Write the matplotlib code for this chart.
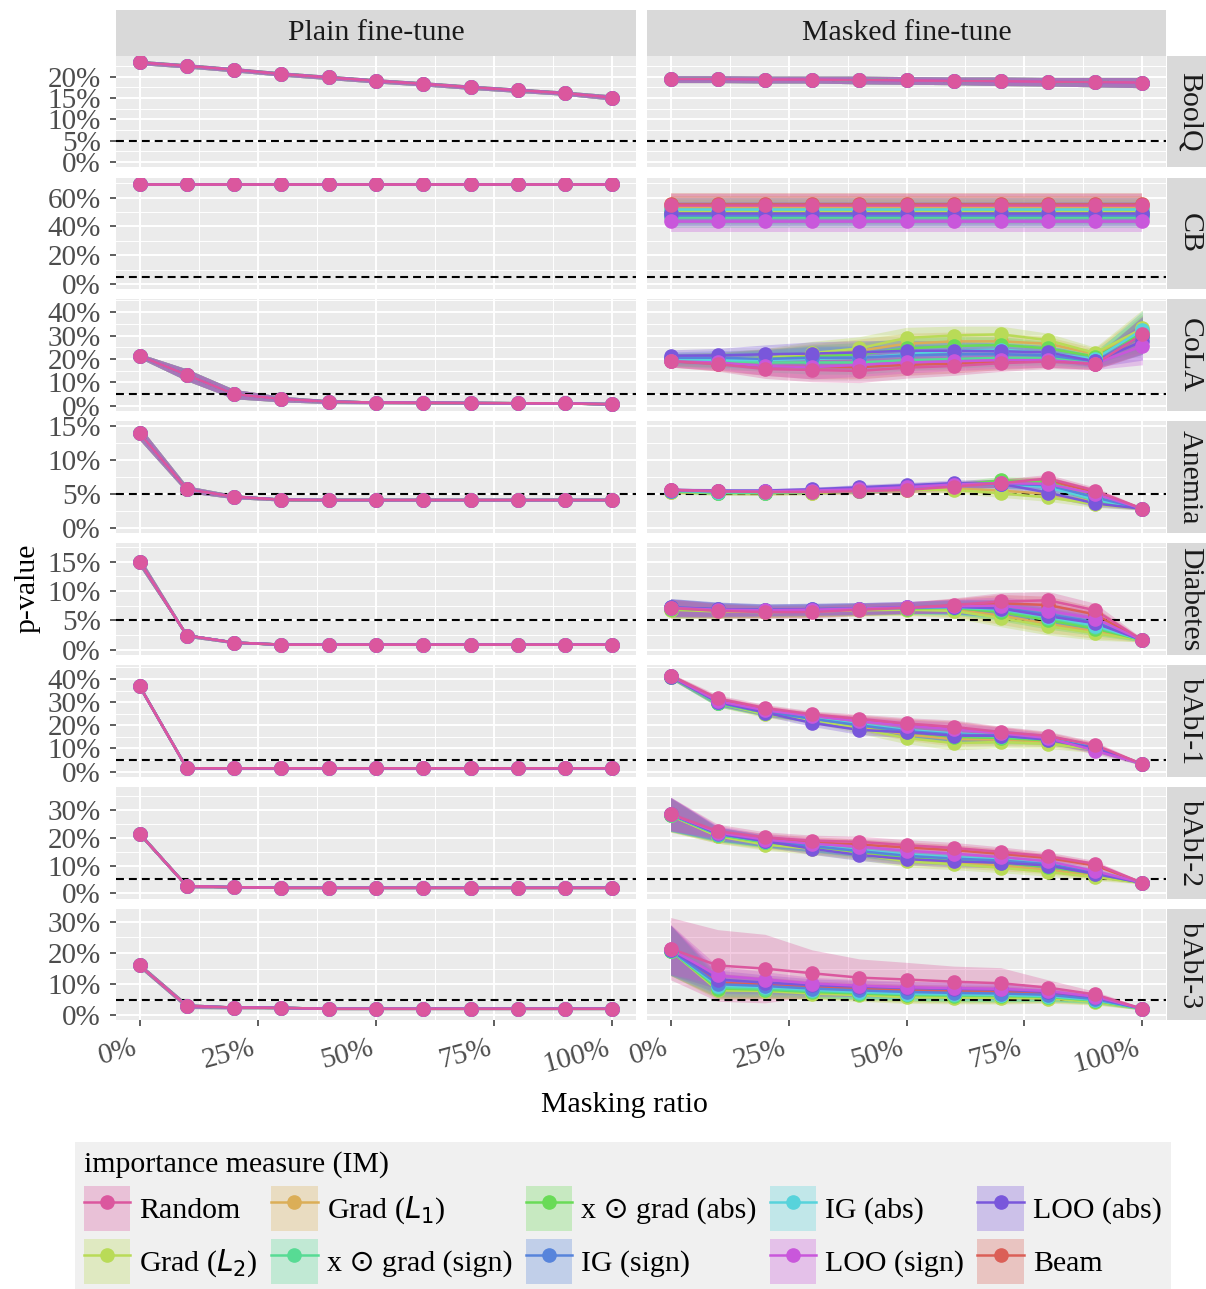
import matplotlib
matplotlib.use("Agg")
import matplotlib.pyplot as plt
import seaborn as sns
from matplotlib.lines import Line2D
from matplotlib.patches import Patch
from matplotlib.legend_handler import HandlerTuple
from matplotlib.ticker import FuncFormatter

plt.rcParams['font.family'] = ['Liberation Serif', 'DejaVu Sans']
plt.rcParams['mathtext.fontset'] = 'dejavusans'

ratio = [0.0, 0.1, 0.2, 0.3, 0.4, 0.5, 0.6, 0.7, 0.8, 0.9, 1.0]
datasets = ["BoolQ", "CB", "CoLA", "Anemia", "Diabetes", "bAbI-1", "bAbI-2", "bAbI-3"]
columns = ["Plain fine-tune", "Masked fine-tune"]

# draw order (Random last so it ends on top)
measures = ["Beam", "GradL1", "GradL2", "XGabs", "XGsign", "IGabs", "IGsign", "LOOabs", "LOOsign", "Random"]
labels = {
    "Random": "Random", "GradL1": "Grad ($L_1$)", "GradL2": "Grad ($L_2$)",
    "XGabs": "x \u2299 grad (abs)", "XGsign": "x \u2299 grad (sign)",
    "IGabs": "IG (abs)", "IGsign": "IG (sign)", "LOOabs": "LOO (abs)",
    "LOOsign": "LOO (sign)", "Beam": "Beam",
}
legend_order = ["Random", "GradL2", "GradL1", "XGsign", "XGabs", "IGsign", "IGabs", "LOOsign", "LOOabs", "Beam"]

y_ticks = [[0, 5, 10, 15, 20], [0, 20, 40, 60], [0, 10, 20, 30, 40], [0, 5, 10, 15],
           [0, 5, 10, 15], [0, 10, 20, 30, 40], [0, 10, 20, 30], [0, 10, 20, 30]]
y_top = [23.7, 70.3, 43.2, 15.0, 17.25, 43.8, 36.3, 32.5]

# ---- plain fine-tune (all measures overlap) ----
plain_boolq = [23.3, 22.5, 21.6, 20.6, 19.8, 19.0, 18.3, 17.5, 16.8, 16.1, 15.1]
plain_cb = [69.7, 69.7, 69.7, 69.7, 69.7, 69.7, 69.7, 69.7, 69.7, 69.7, 69.7]
plain_cola = [21.3, 13.2, 5.0, 2.9, 1.8, 1.4, 1.3, 1.2, 1.1, 1.0, 0.7]
plain_anemia = [14.0, 5.7, 4.6, 4.15, 4.1, 4.1, 4.1, 4.1, 4.1, 4.1, 4.1]
plain_diabetes = [15.0, 2.4, 1.2, 0.85, 0.85, 0.85, 0.85, 0.85, 0.85, 0.85, 0.85]
plain_babi1 = [36.9, 1.4, 1.4, 1.4, 1.4, 1.4, 1.4, 1.4, 1.4, 1.4, 1.4]
plain_babi2 = [21.4, 2.6, 2.25, 2.0, 2.0, 2.0, 2.0, 2.0, 2.0, 2.0, 2.0]
plain_babi3 = [16.0, 3.0, 2.5, 2.4, 2.1, 2.1, 2.1, 2.1, 2.1, 2.1, 2.1]

plain_ci_boolq = [0.5, 0.5, 0.5, 0.5, 0.5, 0.5, 0.5, 0.5, 0.5, 0.5, 0.6]
plain_ci_cb = [0.5, 0.5, 0.5, 0.5, 0.5, 0.5, 0.5, 0.5, 0.5, 0.5, 0.5]
plain_ci_cola = [1.0, 2.5, 2.0, 1.2, 0.8, 0.5, 0.5, 0.4, 0.4, 0.3, 0.3]
plain_ci_anemia = [1.0, 0.5, 0.3, 0.2, 0.2, 0.2, 0.2, 0.2, 0.2, 0.2, 0.2]
plain_ci_diabetes = [0.8, 0.3, 0.2, 0.1, 0.1, 0.1, 0.1, 0.1, 0.1, 0.1, 0.1]
plain_ci_babi1 = [0.8, 0.3, 0.2, 0.2, 0.2, 0.2, 0.2, 0.2, 0.2, 0.2, 0.2]
plain_ci_babi2 = [0.8, 0.6, 0.3, 0.2, 0.2, 0.2, 0.2, 0.2, 0.2, 0.2, 0.2]
plain_ci_babi3 = [0.8, 0.8, 0.4, 0.3, 0.2, 0.2, 0.2, 0.2, 0.2, 0.2, 0.2]

# ---- masked fine-tune ----
masked_boolq = [19.4, 19.4, 19.3, 19.3, 19.2, 19.1, 19.0, 18.9, 18.8, 18.7, 18.6]
masked_ci_boolq = [0.8, 0.8, 0.8, 0.8, 0.9, 0.9, 0.9, 1.0, 1.0, 1.1, 1.2]

masked_cb = {
    "Beam":    [55.5, 55.5, 55.5, 55.5, 55.5, 55.5, 55.5, 55.5, 55.5, 55.5, 55.5],
    "GradL1":  [53.5, 53.5, 53.5, 53.5, 53.5, 53.5, 53.5, 53.5, 53.5, 53.5, 53.5],
    "GradL2":  [50.8, 50.8, 50.8, 50.8, 50.8, 50.8, 50.8, 50.8, 50.8, 50.8, 50.8],
    "XGabs":   [49.0, 49.0, 49.0, 49.0, 49.0, 49.0, 49.0, 49.0, 49.0, 49.0, 49.0],
    "XGsign":  [46.5, 46.5, 46.5, 46.5, 46.5, 46.5, 46.5, 46.5, 46.5, 46.5, 46.5],
    "IGabs":   [52.0, 52.0, 52.0, 52.0, 52.0, 52.0, 52.0, 52.0, 52.0, 52.0, 52.0],
    "IGsign":  [48.0, 48.0, 48.0, 48.0, 48.0, 48.0, 48.0, 48.0, 48.0, 48.0, 48.0],
    "LOOabs":  [49.5, 49.5, 49.5, 49.5, 49.5, 49.5, 49.5, 49.5, 49.5, 49.5, 49.5],
    "LOOsign": [43.4, 43.4, 43.4, 43.4, 43.4, 43.4, 43.4, 43.4, 43.4, 43.4, 43.4],
    "Random":  [54.8, 54.8, 54.8, 54.8, 54.8, 54.8, 54.8, 54.8, 54.8, 54.8, 54.8],
}
masked_ci_cb = [7.5, 7.5, 7.5, 7.5, 7.5, 7.5, 7.5, 7.5, 7.5, 7.5, 7.5]

masked_cola = {
    "Beam":    [19.0, 18.0, 17.0, 16.5, 16.5, 17.5, 18.0, 19.0, 19.5, 18.0, 30.0],
    "GradL1":  [19.8, 19.8, 20.3, 21.5, 23.5, 26.5, 27.5, 27.5, 26.5, 22.0, 32.0],
    "GradL2":  [19.8, 19.8, 20.5, 22.5, 24.5, 29.0, 30.0, 30.5, 28.0, 22.5, 33.0],
    "XGabs":   [19.5, 19.5, 20.0, 21.0, 22.0, 24.5, 25.5, 26.0, 24.5, 21.0, 31.0],
    "XGsign":  [19.5, 19.0, 18.5, 18.5, 18.5, 19.5, 20.0, 20.5, 20.5, 18.5, 30.0],
    "IGabs":   [20.0, 19.5, 19.5, 20.0, 20.5, 22.0, 23.5, 24.0, 22.5, 20.0, 32.5],
    "IGsign":  [20.5, 20.5, 20.0, 20.5, 20.5, 21.5, 22.0, 22.0, 21.5, 19.0, 30.0],
    "LOOabs":  [21.4, 21.5, 22.0, 22.3, 22.8, 23.5, 23.5, 23.3, 22.8, 19.0, 27.5],
    "LOOsign": [19.0, 18.5, 17.0, 16.5, 17.5, 18.5, 19.0, 19.5, 19.5, 18.0, 25.5],
    "Random":  [19.1, 17.8, 15.7, 15.3, 14.9, 16.3, 17.0, 18.2, 18.9, 17.9, 30.5],
}
masked_ci_cola = [2.5, 3.0, 4.0, 5.0, 5.0, 4.5, 4.0, 3.5, 3.0, 2.5, 8.0]

masked_anemia = {
    "Beam":    [5.6, 5.4, 5.3, 5.4, 5.5, 5.8, 6.2, 6.7, 7.0, 5.3, 2.8],
    "GradL1":  [5.3, 5.2, 5.1, 5.2, 5.4, 5.6, 5.8, 5.5, 5.0, 3.8, 2.8],
    "GradL2":  [5.3, 5.1, 5.1, 5.2, 5.4, 5.6, 5.6, 5.1, 4.5, 3.5, 2.8],
    "XGabs":   [5.4, 5.2, 5.2, 5.3, 5.5, 5.8, 6.3, 7.0, 6.8, 4.5, 2.8],
    "XGsign":  [5.4, 5.2, 5.2, 5.3, 5.5, 5.8, 6.2, 6.6, 6.2, 4.0, 2.8],
    "IGabs":   [5.5, 5.3, 5.3, 5.4, 5.6, 5.9, 6.3, 6.5, 6.0, 4.2, 2.8],
    "IGsign":  [5.5, 5.4, 5.4, 5.5, 5.7, 6.0, 6.3, 6.5, 6.3, 4.5, 2.8],
    "LOOabs":  [5.6, 5.5, 5.5, 5.7, 6.0, 6.3, 6.6, 6.5, 5.2, 3.6, 2.8],
    "LOOsign": [5.6, 5.4, 5.4, 5.5, 5.7, 6.0, 6.4, 6.6, 6.5, 5.0, 2.8],
    "Random":  [5.6, 5.4, 5.3, 5.3, 5.4, 5.6, 6.1, 6.6, 7.3, 5.5, 2.8],
}
masked_ci_anemia = [0.3, 0.3, 0.3, 0.3, 0.4, 0.4, 0.5, 0.6, 0.6, 0.5, 0.2]

masked_diabetes = {
    "Beam":    [7.1, 6.7, 6.5, 6.6, 6.9, 7.1, 7.5, 7.9, 7.6, 6.0, 1.6],
    "GradL1":  [6.9, 6.6, 6.5, 6.6, 6.8, 6.9, 6.8, 5.8, 4.4, 3.1, 1.6],
    "GradL2":  [6.8, 6.5, 6.4, 6.5, 6.7, 6.8, 6.6, 5.4, 4.0, 2.8, 1.6],
    "XGabs":   [7.0, 6.7, 6.6, 6.7, 6.9, 7.0, 7.1, 6.4, 5.0, 3.6, 1.6],
    "XGsign":  [7.1, 6.8, 6.7, 6.8, 6.9, 7.1, 7.2, 6.7, 5.4, 3.9, 1.6],
    "IGabs":   [7.1, 6.8, 6.7, 6.8, 7.0, 7.1, 7.2, 6.9, 5.6, 4.1, 1.6],
    "IGsign":  [7.2, 6.9, 6.8, 6.9, 7.0, 7.2, 7.3, 7.1, 6.0, 4.7, 1.6],
    "LOOabs":  [7.2, 6.9, 6.8, 6.9, 7.0, 7.2, 7.3, 7.0, 5.7, 4.5, 1.6],
    "LOOsign": [7.1, 6.8, 6.7, 6.8, 7.0, 7.2, 7.4, 7.5, 6.6, 5.3, 1.6],
    "Random":  [7.1, 6.6, 6.4, 6.4, 6.8, 7.1, 7.6, 8.2, 8.4, 6.7, 1.6],
}
masked_ci_diabetes = [1.5, 1.2, 1.0, 1.0, 1.0, 1.0, 1.2, 1.5, 1.5, 1.2, 0.3]

masked_babi1 = {
    "Beam":    [41.5, 31.0, 27.0, 24.3, 22.3, 20.3, 18.8, 16.8, 15.0, 11.0, 3.2],
    "GradL1":  [41.0, 29.8, 25.3, 22.8, 19.5, 16.0, 14.0, 13.8, 12.8, 9.8, 3.2],
    "GradL2":  [41.0, 29.5, 24.8, 22.5, 18.5, 14.5, 12.3, 12.8, 12.0, 9.5, 3.2],
    "XGabs":   [41.0, 29.5, 25.5, 23.0, 20.0, 17.0, 15.0, 14.5, 13.5, 10.0, 3.2],
    "XGsign":  [41.0, 29.5, 25.5, 23.0, 20.2, 17.5, 15.5, 15.0, 14.0, 10.2, 3.2],
    "IGabs":   [41.2, 30.0, 26.0, 23.0, 20.5, 18.0, 16.5, 15.5, 14.0, 10.5, 3.2],
    "IGsign":  [41.2, 30.0, 26.0, 22.8, 20.0, 17.5, 16.0, 15.5, 14.0, 10.3, 3.2],
    "LOOabs":  [41.0, 30.0, 25.5, 21.0, 18.0, 17.0, 15.5, 15.5, 13.8, 10.0, 3.2],
    "LOOsign": [41.3, 30.5, 26.5, 24.0, 21.8, 19.8, 18.3, 16.5, 14.5, 9.0, 3.2],
    "Random":  [41.5, 31.6, 27.5, 24.7, 22.8, 20.8, 19.3, 17.1, 15.4, 11.4, 3.2],
}
masked_ci_babi1 = [1.0, 1.5, 1.5, 1.5, 2.0, 2.5, 3.0, 2.5, 2.0, 1.5, 0.5]

masked_babi2 = {
    "Beam":    [28.3, 21.0, 19.5, 18.3, 17.5, 16.5, 15.5, 14.2, 12.7, 10.0, 3.8],
    "GradL1":  [28.0, 20.5, 18.0, 16.3, 14.5, 12.2, 11.2, 10.0, 8.5, 6.3, 3.8],
    "GradL2":  [28.0, 20.5, 17.5, 16.0, 14.0, 11.5, 10.5, 9.2, 7.7, 5.8, 3.8],
    "XGabs":   [28.2, 21.0, 18.3, 16.8, 15.0, 13.0, 12.0, 11.0, 9.5, 7.0, 3.8],
    "XGsign":  [28.2, 21.0, 18.5, 17.0, 15.3, 13.5, 12.5, 11.5, 10.0, 7.3, 3.8],
    "IGabs":   [28.3, 21.3, 18.8, 17.2, 15.5, 14.0, 13.0, 12.2, 11.0, 7.8, 3.8],
    "IGsign":  [28.3, 21.3, 18.8, 17.0, 15.2, 13.5, 12.5, 11.8, 10.5, 7.5, 3.8],
    "LOOabs":  [28.5, 21.5, 18.7, 16.0, 13.8, 12.3, 11.5, 11.0, 10.0, 7.0, 3.8],
    "LOOsign": [28.5, 21.8, 19.3, 17.8, 16.8, 15.3, 14.3, 13.0, 11.5, 8.0, 3.8],
    "Random":  [28.5, 22.3, 20.1, 18.9, 18.5, 17.3, 16.3, 14.9, 13.3, 10.6, 3.8],
}
masked_ci_babi2 = [6.0, 2.5, 2.0, 2.0, 2.0, 2.0, 2.0, 1.8, 1.5, 1.2, 0.4]

masked_babi3 = {
    "Beam":    [21.0, 10.5, 9.8, 9.0, 8.5, 8.0, 7.7, 7.5, 7.0, 5.5, 2.1],
    "GradL1":  [20.8, 8.5, 8.0, 7.3, 6.8, 6.2, 6.0, 5.9, 5.6, 4.5, 2.1],
    "GradL2":  [20.8, 8.0, 7.8, 7.0, 6.5, 5.8, 5.7, 5.6, 5.4, 4.3, 2.1],
    "XGabs":   [20.8, 8.6, 8.2, 7.5, 7.0, 6.5, 6.3, 6.2, 5.9, 4.7, 2.1],
    "XGsign":  [20.8, 9.0, 8.5, 7.8, 7.3, 6.8, 6.5, 6.4, 6.0, 4.8, 2.1],
    "IGabs":   [20.9, 9.5, 9.0, 8.2, 7.5, 7.0, 6.8, 6.6, 6.2, 5.0, 2.1],
    "IGsign":  [20.9, 10.0, 9.4, 8.6, 8.0, 7.5, 7.2, 7.0, 6.6, 5.2, 2.1],
    "LOOabs":  [21.0, 11.5, 10.5, 9.7, 9.2, 8.8, 8.5, 8.3, 7.5, 5.8, 2.1],
    "LOOsign": [21.2, 12.8, 11.5, 10.2, 9.5, 9.0, 8.7, 8.5, 7.8, 6.0, 2.1],
    "Random":  [21.4, 16.0, 15.0, 13.5, 12.1, 11.5, 10.8, 10.3, 8.9, 6.7, 2.1],
}
masked_ci_babi3 = [8.0, 3.0, 2.5, 2.0, 2.0, 2.0, 2.0, 2.0, 1.5, 1.0, 0.4]
masked_ci_babi3_random = [10.0, 11.5, 11.0, 7.5, 6.0, 5.5, 5.0, 5.0, 2.5, 1.0, 0.4]

plain_means = [plain_boolq, plain_cb, plain_cola, plain_anemia, plain_diabetes,
               plain_babi1, plain_babi2, plain_babi3]
plain_cis = [plain_ci_boolq, plain_ci_cb, plain_ci_cola, plain_ci_anemia, plain_ci_diabetes,
             plain_ci_babi1, plain_ci_babi2, plain_ci_babi3]
masked_means = [None, masked_cb, masked_cola, masked_anemia, masked_diabetes,
                masked_babi1, masked_babi2, masked_babi3]
masked_cis = [masked_ci_boolq, masked_ci_cb, masked_ci_cola, masked_ci_anemia,
              masked_ci_diabetes, masked_ci_babi1, masked_ci_babi2, masked_ci_babi3]

pal = sns.hls_palette(10)
colors = dict(zip(measures, pal))

W, H = 1206, 1289
fig = plt.figure(figsize=(W / 100, H / 100), dpi=100)


def px_axes(x, y, w, h):
    return fig.add_axes([x / W, 1 - (y + h) / H, w / W, h / H])


col_x = [116, 647]
col_w = [520, 519]
top, ph, gap = 55.7, 111.4, 10.5
FS = 21.5
pct = FuncFormatter(lambda v, _: f"{v:.0f}%")


def series_for(r, c, m):
    if c == 0:
        return plain_means[r], plain_cis[r]
    if r == 0:
        return masked_boolq, masked_ci_boolq
    ci = masked_cis[r]
    if r == 7 and m == "Random":
        ci = masked_ci_babi3_random
    return masked_means[r][m], ci


def strip(x, y, w, h, text, rot):
    sa = px_axes(x, y, w, h)
    sa.set_facecolor('#D9D9D9')
    sa.set_xticks([])
    sa.set_yticks([])
    for s in sa.spines.values():
        s.set_visible(False)
    sa.text(0.5, 0.5, text, ha='center', va='center', rotation=rot, fontsize=FS,
            color='#1A1A1A', transform=sa.transAxes)


for r, name in enumerate(datasets):
    ytop = top + r * (ph + gap)
    for c in range(2):
        ax = px_axes(col_x[c], ytop, col_w[c], ph)
        ax.set_facecolor('#EBEBEB')
        for s in ax.spines.values():
            s.set_visible(False)
        ax.set_xlim(-0.05, 1.05)
        ax.set_ylim(-0.05 * y_top[r], 1.05 * y_top[r])
        ax.set_xticks([0, 0.25, 0.5, 0.75, 1.0])
        ax.set_xticks([0.125, 0.375, 0.625, 0.875], minor=True)
        yt = y_ticks[r]
        ax.set_yticks(yt)
        step = yt[1] - yt[0]
        ax.set_yticks([v + step / 2 for v in yt if v + step / 2 < 1.05 * y_top[r]], minor=True)
        ax.grid(which='major', color='white', lw=1.4)
        ax.grid(which='minor', color='white', lw=0.7)
        ax.set_axisbelow(True)
        ax.yaxis.set_major_formatter(pct)
        ax.tick_params(which='minor', length=0)
        ax.tick_params(which='major', color='#333333', length=4.5, width=1.1,
                       labelcolor='#4D4D4D', labelsize=21)
        ax.tick_params(axis='y', pad=6.5)
        if c == 1:
            ax.tick_params(axis='y', length=0, labelleft=False)
        if r < len(datasets) - 1:
            ax.tick_params(axis='x', length=0, labelbottom=False)
        else:
            ax.xaxis.set_major_formatter(FuncFormatter(lambda v, _: f"{v * 100:.0f}%"))
            ax.tick_params(axis='x', pad=6)
            for lab in ax.get_xticklabels():
                lab.set_rotation(15)
                lab.set_ha('right')
                lab.set_va('top')

        for m in measures:
            mean, ci = series_for(r, c, m)
            lo = [a - b for a, b in zip(mean, ci)]
            hi = [a + b for a, b in zip(mean, ci)]
            ax.fill_between(ratio, lo, hi, color=colors[m], alpha=0.3, lw=0, zorder=2)
            ax.plot(ratio, mean, color=colors[m], lw=1.8, zorder=3)
            ax.plot(ratio, mean, ls='none', marker='o', ms=9.5, color=colors[m], zorder=4)
        ax.axhline(5, color='black', lw=1.5, ls=(0, (3.8, 2.4)), zorder=2.5)

        if r == 0:
            strip(col_x[c], 10, col_w[c], top - 10, columns[c], 0)
        if c == 1:
            strip(1167, ytop, 46, ph, name, -90)

fig.text(27 / W, 1 - 588 / H, "p-value", rotation=90, ha='center', va='center', fontsize=FS)
fig.text(624 / W, 1 - 1105 / H, "Masking ratio", ha='center', va='center', fontsize=FS)

handles = []
for m in legend_order:
    handles.append((Patch(facecolor=colors[m], alpha=0.3, lw=0),
                    Line2D([], [], color=colors[m], lw=1.8, marker='o', ms=9.5)))
leg = fig.legend(handles, [labels[m] for m in legend_order], loc='upper left',
                 bbox_to_anchor=(75 / W, 1 - 1142 / H), ncol=5,
                 title="importance measure (IM)", fontsize=FS, title_fontsize=FS,
                 handlelength=1.55, handleheight=1.94, handletextpad=0.3,
                 columnspacing=0.45, labelspacing=0.27, borderpad=0.3, borderaxespad=0,
                 numpoints=1, frameon=True, fancybox=False, framealpha=1,
                 facecolor='#F0F0F0', edgecolor='none', alignment='left',
                 handler_map={tuple: HandlerTuple(ndivide=1)})

fig.savefig("out.png", dpi=100)
